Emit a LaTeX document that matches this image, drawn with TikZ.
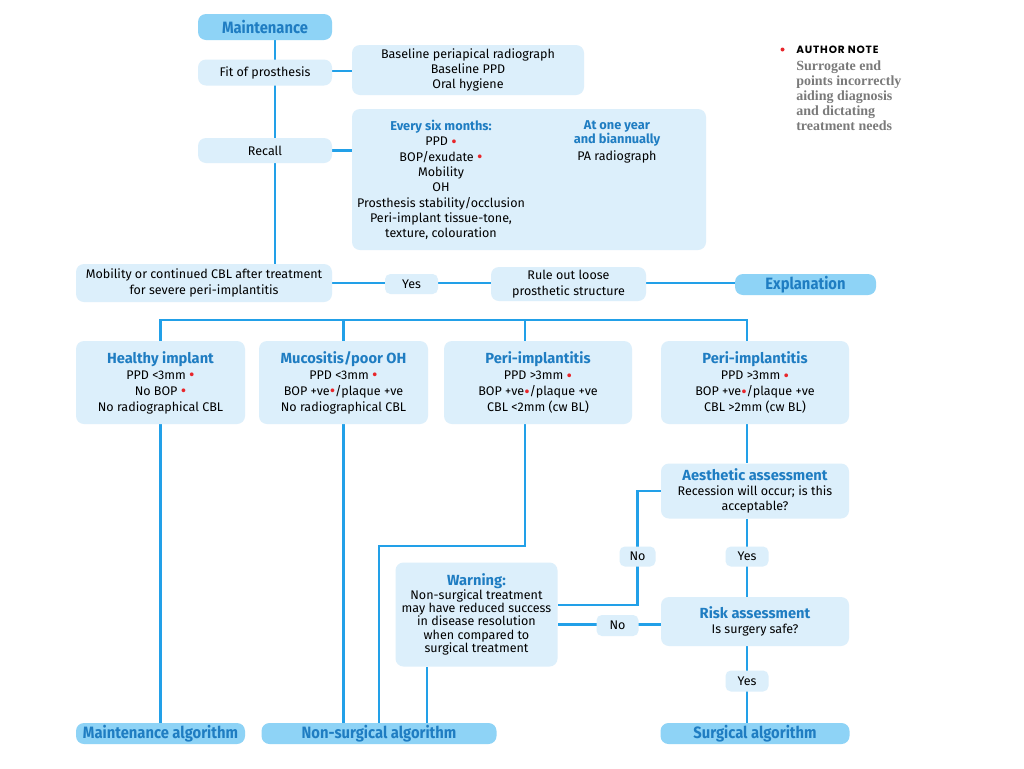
\documentclass[tikz,border=0pt]{standalone}
\usepackage{fontspec}
\usetikzlibrary{backgrounds}
\setmainfont{Fira Sans}
\newfontfamily\condfont[FakeStretch=0.9]{Fira Sans}
\newfontfamily\noteheadfont[LetterSpace=8]{Poppins}
\newfontfamily\noteserif{Liberation Serif}
\definecolor{lineblue}{HTML}{22A0E8}
\definecolor{lightfill}{HTML}{DCEFFB}
\definecolor{darkfill}{HTML}{8ED3F6}
\definecolor{titleblue}{HTML}{1F7DC2}
\definecolor{dotred}{HTML}{E8262B}
\definecolor{notegray}{HTML}{7A7A7A}
\newcommand\rd{\textcolor{dotred}{\raisebox{-0.25ex}{\fontsize{12.5}{12}\selectfont•}}}
\newcommand\ttl[1]{{\fontsize{11}{12}\selectfont\bfseries\color{titleblue}#1}}
\newcommand\evhead[1]{{\fontsize{9.6}{10}\selectfont\bfseries\color{titleblue}#1}}
\tikzset{
  sz/.style 2 args={minimum width=#1*0.75pt, minimum height=#2*0.75pt},
  box/.style={fill=lightfill, rounded corners=6pt, align=center, inner sep=0pt,
    text=black, font=\fontsize{9.4}{11.5}\selectfont},
  darkbox/.style={box, fill=darkfill, text=titleblue,
    font=\condfont\fontsize{12.3}{13}\selectfont\bfseries},
  lbl/.style={box, rounded corners=4pt},
  conn/.style={draw=lineblue, line width=2.1pt},
  txt/.style={inner sep=0pt, align=center, font=\fontsize{9.4}{11.5}\selectfont},
}
\begin{document}
\begin{tikzpicture}[x=0.75pt,y=-0.75pt]
\useasboundingbox (0,0) rectangle (1024,768);

% helper coordinates
\coordinate (c275) at (275,0);
\coordinate (c379) at (379,0);
\coordinate (c427) at (427,0);
\coordinate (c525) at (525,0);
\coordinate (c637) at (637.5,0);
\coordinate (c747) at (747,0);
\coordinate (y71) at (0,71);
\coordinate (y320) at (0,320);
\coordinate (y491) at (0,491);
\coordinate (y546) at (0,546);
\coordinate (y605) at (0,605);
\coordinate (y625) at (0,624.5);

% top section
\node[darkbox, sz={134}{26}] (maint) at (265,27) {Maintenance};
\node[box, sz={134}{26}] (fit) at (265,72.5) {Fit of prosthesis};
\node[box, sz={232}{50}] (base) at (468,70) {Baseline periapical radiograph\\Baseline PPD\\Oral hygiene};
\node[box, sz={134}{25}] (recall) at (265,150.5) {Recall};
\node[box, sz={354}{141}] (every) at (529,179.5) {};
\node[txt] (everyl) at (441,180) {\evhead{Every six months:}\\PPD \rd\\BOP/exudate \rd\\Mobility\\OH\\Prosthesis stability/occlusion\\Peri-implant tissue-tone,\\texture, colouration};
\node[txt, anchor=north, font=\fontsize{9.4}{9.2}\selectfont] (everyr) at (617,120) {\evhead{At one year}\\\evhead{and biannually}\\[2.5pt]PA radiograph};

\node[box, sz={256}{38}] (mob) at (204,283) {Mobility or continued CBL after treatment\\for severe peri-implantitis};
\node[lbl, sz={53}{20}] (yes1) at (411.5,284) {Yes};
\node[box, sz={155}{34}] (rule) at (568.5,284) {Rule out loose\\prosthetic structure};
\node[darkbox, sz={141}{21}] (expl) at (805.5,284.5) {Explanation};

% diagnosis row
\node[box, font=\fontsize{9.4}{12}\selectfont, sz={169}{83}] (healthy) at (160.5,382.5) {\ttl{Healthy implant}\\PPD <3mm \rd\\No BOP \rd\\No radiographical CBL};
\node[box, font=\fontsize{9.4}{12}\selectfont, sz={169}{83}] (muco) at (343.5,382.5) {\ttl{Mucositis/poor OH}\\PPD <3mm \rd\\BOP +ve\rd/plaque +ve\\No radiographical CBL};
\node[box, font=\fontsize{9.4}{12}\selectfont, sz={188}{83}] (peri1) at (538,382.5) {\ttl{Peri-implantitis}\\PPD >3mm \rd\\BOP +ve\rd/plaque +ve\\CBL <2mm (cw BL)};
\node[box, font=\fontsize{9.4}{12}\selectfont, sz={188}{83}] (peri2) at (755,382.5) {\ttl{Peri-implantitis}\\PPD >3mm \rd\\BOP +ve\rd/plaque +ve\\CBL >2mm (cw BL)};

% right column
\node[box, font=\fontsize{9.4}{11}\selectfont, sz={188}{55}] (aes) at (755,491) {\ttl{Aesthetic assessment}\\Recession will occur; is this\\acceptable?};
\node[box, font=\fontsize{9.4}{11}\selectfont, sz={188}{49}] (risk) at (755,621.5) {\ttl{Risk assessment}\\Is surgery safe?};
\node[box, font=\fontsize{9.4}{10}\selectfont, sz={162}{104}] (warn) at (476.5,614.5) {\ttl{Warning:}\\Non-surgical treatment\\may have reduced success\\in disease resolution\\when compared to\\surgical treatment};
\node[lbl, sz={36}{20}] (no1) at (637.5,556.5) {No};
\node[lbl, sz={43}{20}] (yes2) at (747,556.5) {Yes};
\node[lbl, sz={42}{21}] (no2) at (617.5,625.5) {No};
\node[lbl, sz={43}{21}] (yes3) at (747,681) {Yes};

% algorithms
\node[darkbox, sz={169}{21}] (maintalg) at (160.5,733.5) {Maintenance algorithm};
\node[darkbox, sz={235}{21}] (nonsurg) at (379,733.5) {Non-surgical algorithm};
\node[darkbox, sz={189}{21}] (surg) at (755,733.5) {Surgical algorithm};

% author note
\fill[dotred] (782.5,49.5) circle (2);
\node[anchor=west, inner sep=0pt, font=\noteheadfont\fontsize{7.9}{8}\selectfont\bfseries] (notehead) at (796,49.5) {AUTHOR NOTE};
\node[anchor=north west, inner sep=0pt, align=left, text=notegray,
  font=\noteserif\fontsize{10.5}{11.3}\selectfont\bfseries] (notebody) at (796,60.5)
  {Surrogate end\\points incorrectly\\aiding diagnosis\\and dictating\\treatment needs};

% connectors
\begin{scope}[on background layer]
\fill[white] (0,0) rectangle (1024,768);
\draw[conn] (c275 |- maint.south) -- (c275 |- mob.north);
\draw[conn] (fit.east |- y71) -- (base.west |- y71);
\draw[conn] (recall.east) -- (recall.east -| every.west);
\draw[conn] (mob.east) -- (mob.east -| expl.west);
\draw[conn] (healthy.north) |- (c747 |- y320) -- (c747 |- peri2.north);
\draw[conn] (muco.north) -- (muco.north |- y320);
\draw[conn] (c525 |- peri1.north) -- (c525 |- y320);
\draw[conn] (healthy.south) -- (maintalg.north);
\draw[conn] (muco.south) -- (muco.south |- nonsurg.north);
\draw[conn] (c525 |- peri1.south) |- (c379 |- y546) -- (c379 |- nonsurg.north);
\draw[conn] (c427 |- warn.south) -- (c427 |- nonsurg.north);
\draw[conn] (c747 |- peri2.south) -- (c747 |- aes.north);
\draw[conn] (aes.west |- y491) -| (c637 |- y605) -- (warn.east |- y605);
\draw[conn] (c747 |- aes.south) -- (c747 |- risk.north);
\draw[conn] (risk.west |- y625) -- (warn.east |- y625);
\draw[conn] (c747 |- risk.south) -- (c747 |- surg.north);
\end{scope}
\end{tikzpicture}
\end{document}
